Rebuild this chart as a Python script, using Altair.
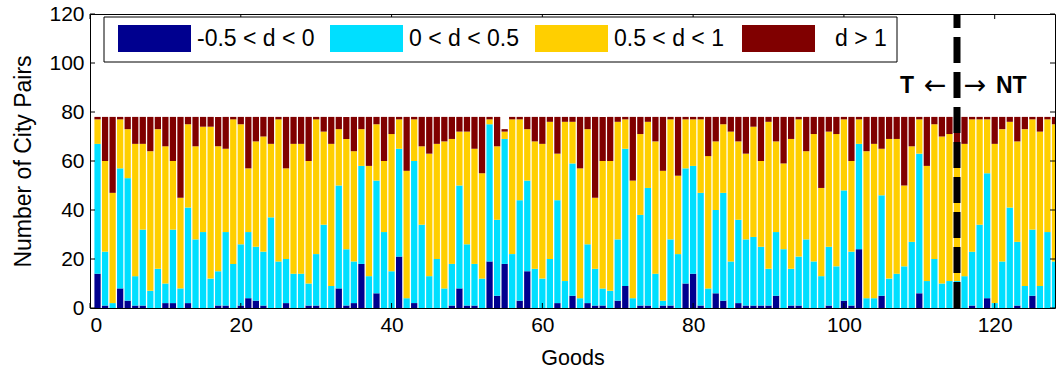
import altair as alt
import pandas as pd

# Number of city pairs per good, split by price-gap class d
goods = list(range(1, 129))

neg_small = [  # -0.5 < d < 0
    14, 1, 0, 8, 3, 1, 1, 0, 0, 2,
    2, 0, 2, 0, 0, 0, 1, 1, 0, 1,
    4, 3, 1, 0, 0, 2, 0, 0, 1, 1,
    0, 0, 8, 1, 2, 18, 0, 6, 0, 0,
    21, 0, 2, 0, 0, 0, 0, 1, 8, 1,
    1, 0, 19, 5, 18, 0, 3, 15, 0, 0,
    0, 2, 0, 5, 0, 2, 1, 1, 0, 3,
    9, 0, 1, 1, 0, 1, 1, 0, 10, 14,
    1, 0, 6, 3, 0, 2, 1, 1, 1, 1,
    5, 0, 1, 1, 0, 0, 0, 1, 0, 3,
    1, 24, 0, 0, 5, 0, 0, 0, 0, 6,
    0, 0, 0, 0, 0, 0, 1, 0, 4, 0,
    0, 0, 1, 0, 5, 0, 0, 0,
]
pos_small = [  # 0 < d < 0.5
    53, 22, 2, 49, 50, 12, 31, 7, 16, 8,
    30, 8, 39, 28, 31, 12, 14, 30, 18, 25,
    27, 22, 22, 37, 19, 18, 14, 14, 9, 21,
    34, 9, 42, 23, 17, 40, 13, 46, 31, 15,
    44, 4, 58, 34, 13, 20, 8, 17, 42, 25,
    17, 12, 56, 31, 51, 22, 41, 37, 16, 12,
    20, 42, 11, 54, 4, 24, 15, 7, 7, 25,
    56, 4, 37, 48, 14, 2, 27, 22, 47, 44,
    46, 8, 34, 44, 19, 34, 27, 28, 24, 15,
    26, 24, 15, 20, 28, 19, 13, 24, 17, 45,
    22, 43, 4, 4, 41, 12, 14, 17, 27, 57,
    11, 20, 10, 11, 11, 13, 22, 34, 51, 2,
    19, 41, 26, 9, 27, 9, 31, 19,
]
pos_mid = [  # 0.5 < d < 1
    10, 37, 45, 20, 20, 54, 35, 57, 57, 56,
    28, 37, 34, 38, 43, 62, 51, 34, 59, 49,
    26, 43, 47, 30, 58, 37, 53, 53, 50, 55,
    38, 58, 23, 45, 45, 15, 45, 23, 29, 56,
    12, 52, 17, 32, 50, 47, 60, 51, 22, 46,
    47, 43, 2, 30, 3, 55, 33, 21, 52, 55,
    56, 19, 65, 17, 53, 47, 29, 52, 53, 48,
    12, 48, 33, 27, 54, 53, 49, 32, 20, 19,
    30, 54, 28, 28, 53, 32, 35, 45, 35, 60,
    37, 35, 53, 56, 36, 52, 36, 47, 54, 29,
    37, 10, 60, 63, 19, 57, 55, 33, 39, 14,
    47, 55, 60, 60, 56, 54, 54, 43, 22, 65,
    54, 35, 41, 64, 45, 63, 46, 56,
]
pos_large = [  # d > 1
    1, 18, 31, 1, 5, 11, 11, 14, 5, 12,
    18, 33, 3, 12, 4, 4, 12, 13, 1, 3,
    21, 10, 8, 11, 1, 21, 11, 11, 18, 1,
    6, 11, 5, 9, 14, 5, 20, 3, 18, 7,
    1, 22, 1, 12, 15, 11, 10, 9, 6, 6,
    13, 23, 1, 12, 1, 1, 1, 5, 10, 11,
    2, 15, 2, 2, 21, 5, 33, 18, 18, 2,
    1, 26, 7, 2, 10, 22, 1, 24, 1, 1,
    1, 16, 10, 3, 6, 10, 15, 4, 18, 2,
    10, 19, 9, 1, 14, 7, 29, 6, 7, 1,
    18, 1, 14, 11, 13, 9, 9, 28, 12, 1,
    20, 3, 8, 7, 11, 11, 1, 1, 1, 11,
    5, 2, 10, 5, 1, 6, 1, 3,
]

categories = ["-0.5 < d < 0", "0 < d < 0.5", "0.5 < d < 1", "d > 1"]
colors = ["#00008F", "#00DFFF", "#FFCF00", "#800000"]

x_ticks = [0, 20, 40, 60, 80, 100, 120]
y_ticks = [0, 20, 40, 60, 80, 100, 120]
split_good = 115  # traded (T) / non-traded (NT) boundary

W, H = 965, 294
BAR_HALF = 0.415
FONT = "Liberation Sans"

# stacked segments
rows = []
for i, g in enumerate(goods):
    base = 0
    for cat, series in zip(categories, [neg_small, pos_small, pos_mid, pos_large]):
        v = series[i]
        rows.append({"good": g, "x0": g - BAR_HALF, "x1": g + BAR_HALF,
                     "y0": base, "y1": base + v, "cat": cat})
        base += v
df = pd.DataFrame(rows)

xs = alt.Scale(domain=[0, 128], nice=False, zero=False)
ys = alt.Scale(domain=[0, 120], nice=False)
cs = alt.Scale(domain=categories, range=colors)

bars = alt.Chart(df).mark_rect(clip=True).encode(
    x=alt.X("x0:Q", scale=xs, axis=alt.Axis(
        values=x_ticks, title="Goods", grid=False, domain=False, tickSize=0,
        labelPadding=6, labelFontSize=21, titleFontSize=21.5, titleFontWeight="normal",
        titleX=W / 2, titleY=56, titleBaseline="alphabetic", titleAlign="center")),
    x2="x1:Q",
    y=alt.Y("y0:Q", scale=ys, axis=alt.Axis(
        values=y_ticks, title="Number of City Pairs", grid=False, domain=False, tickSize=0,
        labelPadding=6, labelFontSize=21, titleFontSize=23, titleFontWeight="normal",
        titleX=-60, titleY=H / 2, titleAngle=270, titleBaseline="alphabetic",
        titleAlign="center")),
    y2="y1:Q",
    color=alt.Color("cat:N", scale=cs, legend=None),
)

# dashed boundary between traded and non-traded goods
split_df = pd.DataFrame({"x": [split_good], "y": [0], "y2": [120]})
split_line = alt.Chart(split_df).mark_rule(
    color="black", strokeWidth=7, strokeDash=[26, 9], strokeCap="butt"
).encode(x=alt.X("x:Q", scale=xs), y=alt.Y("y:Q", scale=ys), y2="y2:Q")

lab_df = pd.DataFrame({"x": [split_good], "y": [90.5]})


def split_label(text, dx, align, font, weight, size):
    return alt.Chart(lab_df).mark_text(
        text=text, align=align, baseline="middle", dx=dx,
        font=font, fontSize=size, fontWeight=weight, color="black"
    ).encode(x=alt.X("x:Q", scale=xs), y=alt.Y("y:Q", scale=ys))


lab_t = split_label("T", -43, "right", FONT, "bold", 23)
arr_l = split_label("\u2190", -22, "center", "DejaVu Sans", "normal", 27)
arr_r = split_label("\u2192", 18, "center", "DejaVu Sans", "normal", 27)
lab_nt = split_label("NT", 39, "left", FONT, "bold", 23)

# inward tick marks on all four sides
xt_df = pd.DataFrame({"v": x_ticks})
yt_df = pd.DataFrame({"v": y_ticks})
tick_len = 5
ticks_bottom = alt.Chart(xt_df).mark_rule(color="black", strokeWidth=1).encode(
    x=alt.X("v:Q", scale=xs), y=alt.value(H), y2=alt.value(H - tick_len))
ticks_top = alt.Chart(xt_df).mark_rule(color="black", strokeWidth=1).encode(
    x=alt.X("v:Q", scale=xs), y=alt.value(0), y2=alt.value(tick_len))
ticks_left = alt.Chart(yt_df).mark_rule(color="black", strokeWidth=1).encode(
    y=alt.Y("v:Q", scale=ys), x=alt.value(0), x2=alt.value(tick_len))
ticks_right = alt.Chart(yt_df).mark_rule(color="black", strokeWidth=1).encode(
    y=alt.Y("v:Q", scale=ys), x=alt.value(W), x2=alt.value(W - tick_len))

# legend box drawn inside the axes
LEG_BOX = (14, 3, 807, 48)
SW_LEFT = [28, 240, 445, 652]
SW_W = 73
TXT_GAP = [6, 6, 6, 20]
leg_df = pd.DataFrame({
    "cat": categories,
    "sx0": SW_LEFT,
    "sx1": [s + SW_W for s in SW_LEFT],
    "tx": [s + SW_W + g for s, g in zip(SW_LEFT, TXT_GAP)],
})
box_df = pd.DataFrame({"x0": [LEG_BOX[0]], "x1": [LEG_BOX[2]],
                       "y0": [LEG_BOX[1]], "y1": [LEG_BOX[3]]})
leg_box = alt.Chart(box_df).mark_rect(fill="white", stroke="black", strokeWidth=1).encode(
    x=alt.X("x0:Q", scale=None), x2="x1:Q",
    y=alt.Y("y0:Q", scale=None), y2="y1:Q")
leg_sw = alt.Chart(leg_df).mark_rect().encode(
    x=alt.X("sx0:Q", scale=None), x2="sx1:Q",
    y=alt.value(11), y2=alt.value(38),
    color=alt.Color("cat:N", scale=cs, legend=None))
leg_txt = alt.Chart(leg_df).mark_text(
    align="left", baseline="middle", fontSize=23, color="black", font=FONT
).encode(x=alt.X("tx:Q", scale=None), y=alt.value(25), text="cat:N")

chart = alt.layer(
    bars, split_line, lab_t, arr_l, arr_r, lab_nt,
    ticks_bottom, ticks_top, ticks_left, ticks_right,
    leg_box, leg_sw, leg_txt,
).properties(
    width=W, height=H,
    padding={"left": 90, "top": 14, "right": 3, "bottom": 67},
    autosize=alt.AutoSizeParams(type="none"),
    background="white",
).configure_view(
    stroke="black", strokeWidth=1
).configure_axis(
    labelColor="black", titleColor="black", labelFont=FONT, titleFont=FONT
)

chart.save("out.html", embed_options={"renderer": "svg", "actions": False})
